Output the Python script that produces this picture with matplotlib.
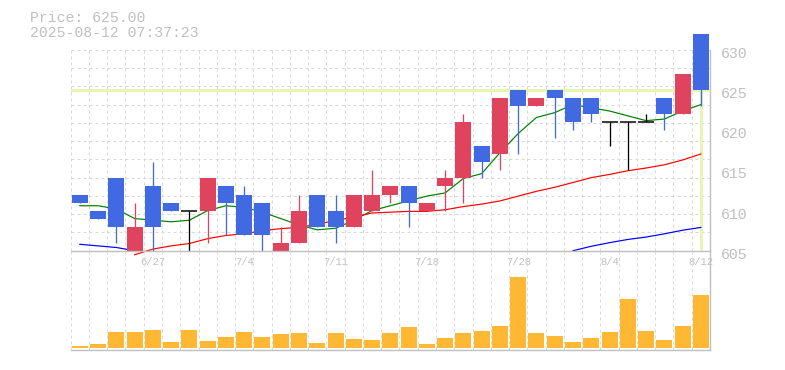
import matplotlib
matplotlib.use('Agg')
import matplotlib.pyplot as plt
import matplotlib.transforms as mtransforms
import numpy as np

# daily data, 6/23 - 8/12
dates = ['6/23', '6/24', '6/25', '6/26', '6/27', '6/30', '7/1', '7/2', '7/3', '7/4',
         '7/7', '7/8', '7/9', '7/10', '7/11', '7/14', '7/15', '7/16', '7/17', '7/18',
         '7/22', '7/23', '7/24', '7/25', '7/28', '7/29', '7/30', '7/31', '8/1', '8/4',
         '8/5', '8/6', '8/7', '8/8', '8/12']
opens = [612, 610, 614, 605, 613, 611, 610, 610, 613, 612,
         611, 605, 606, 612, 610, 608, 610, 612, 613, 610,
         613, 614, 618, 617, 625, 623, 625, 624, 624, 621,
         621, 621, 624, 622, 632]
highs = [612, 610, 614, 611, 616, 611, 610, 614, 613, 613,
         611, 608, 612, 612, 612, 612, 615, 613, 613, 611,
         615, 622, 618, 624, 625, 624, 625, 624, 624, 621,
         621, 622, 624, 627, 632]
lows = [611, 609, 606, 605, 605, 610, 605, 606, 607, 607,
        605, 605, 606, 608, 606, 608, 610, 611, 608, 610,
        610, 611, 614, 615, 617, 623, 619, 620, 621, 618,
        615, 621, 620, 622, 623]
closes = [611, 609, 608, 608, 608, 610, 610, 614, 611, 607,
          607, 606, 610, 608, 608, 612, 612, 613, 611, 611,
          614, 621, 616, 624, 623, 624, 624, 621, 622, 621,
          621, 621, 622, 627, 625]
nan = float('nan')
ma_short = [610.6, 610.6, 610.2, 609.0, 608.8, 608.6, 608.8, 610.0, 610.6, 610.4,
            609.8, 609.0, 608.2, 607.6, 607.8, 608.8, 610.0, 610.6, 611.2, 611.8,
            612.2, 614.0, 614.6, 617.2, 619.6, 621.6, 622.2, 623.2, 622.8, 622.4,
            621.8, 621.2, 621.4, 622.4, 623.2]
ma_mid = [nan, nan, nan, 604.5, 605.2, 605.6, 605.9, 606.5, 606.9, 607.1,
          607.5, 607.75, 607.9, 608.3, 608.75, 609.2, 609.7, 609.8, 609.9, 609.9,
          610.1, 610.5, 610.8, 611.2, 611.8, 612.4, 612.9, 613.5, 614.1, 614.5,
          614.96, 615.3, 615.7, 616.3, 617.05]
ma_long = [605.8, 605.6, 605.4, 605.0, nan, nan, nan, nan, nan, nan,
           nan, nan, nan, nan, nan, nan, nan, nan, nan, nan,
           nan, nan, nan, nan, nan, nan, nan, 605.0, 605.55, 606.0,
           606.4, 606.7, 607.1, 607.55, 607.9]
volumes = [200, 400, 1600, 1600, 1800, 600, 1800, 700, 1100, 1600,
           1100, 1400, 1500, 500, 1500, 900, 800, 1500, 2100, 400,
           1000, 1500, 1700, 2200, 7100, 1500, 1200, 600, 1000, 1600,
           4900, 1700, 800, 2200, 5300]
price_ticks = [605, 610, 615, 620, 625, 630]
timestamp = '2025-08-12 07:37:23'

W, H = 785, 370
gray = '#c0c0c0'
gridc = '#d9d9d9'
mono = 'Liberation Mono'
px = 0.72  # one pixel in points

fig = plt.figure(figsize=(W / 100, H / 100), dpi=100)


def box(l, t, r, b):
    return [l / W, 1 - b / H, (r - l) / W, (b - t) / H]


ax = fig.add_axes(box(70.7, 50, 710, 250.7))
axv = fig.add_axes(box(70.7, 250.7, 710, 350))
axv.patch.set_alpha(0)

n = len(dates)
x = np.arange(n)
o = np.array(opens, float)
h = np.array(highs, float)
l = np.array(lows, float)
c = np.array(closes, float)

ax.set_xlim(-0.5, n - 0.5)
ax.set_ylim(price_ticks[0], price_ticks[-1])
axv.set_xlim(-0.5, n - 0.5)
vmax = max(volumes)
axv.set_ylim(-vmax * 2 / 71, vmax * 97.3 / 71)

# dashed grid
for xv in np.arange(-0.5, n - 0.5):
    ax.axvline(xv, color=gridc, lw=px, ls=(0, (3, 3)), zorder=0)
    axv.axvline(xv, color=gridc, lw=px, ls=(0, (3, 3)), zorder=0)
for k in range(11):
    ax.axhline(price_ticks[-1] - k * (price_ticks[-1] - price_ticks[0]) / 11,
               color=gridc, lw=px, ls=(0, (3, 3)), zorder=0)

# current price marker
hl = '#e6f5b3'
ax.axhline(c[-1], color=hl, lw=3 * px, zorder=1)
ax.plot([x[-1], x[-1]], [price_ticks[0], c[-1]], color=hl, lw=3 * px, zorder=1,
        solid_capstyle='butt')

# moving averages
ax.plot(x, ma_short, color='#008000', lw=1.2 * px, zorder=2, clip_on=False)
ax.plot(x, ma_mid, color='#ff0000', lw=1.2 * px, zorder=2, clip_on=False)
ax.plot(x, ma_long, color='#0000ff', lw=1.2 * px, zorder=2, clip_on=False)

# candles
cols = np.where(c > o, '#e0435d', np.where(c < o, '#4169e1', '#000000'))
ax.vlines(x, l, h, colors=cols, lw=1.3 * px, zorder=3, clip_on=False)
bars = ax.bar(x, np.abs(c - o), bottom=np.minimum(o, c), width=0.875,
              color=cols, linewidth=0, zorder=4)
for b in bars:
    b.set_clip_on(False)
doji = c == o
ax.hlines(c[doji], x[doji] - 0.4375, x[doji] + 0.4375, colors='black',
          lw=1.5 * px, zorder=4, clip_on=False)

# volume
axv.bar(x, volumes, width=0.875, color='#ffb833', linewidth=0, zorder=2)

# axes styling
for a in (ax, axv):
    for s in ('left', 'top'):
        a.spines[s].set_visible(False)
    for s in ('right', 'bottom'):
        a.spines[s].set_color(gray)
        a.spines[s].set_linewidth(1.4 * px)
        a.spines[s].set_zorder(5)

ax.yaxis.tick_right()
ax.set_yticks(price_ticks)
ax.set_yticklabels([str(t) for t in price_ticks], family=mono, fontsize=10.7,
                   color=gray)
ax.tick_params(axis='y', length=0, pad=7.5)
shift = mtransforms.ScaledTranslation(0, -2.5 / 100, fig.dpi_scale_trans)
for lab in ax.get_yticklabels():
    lab.set_transform(lab.get_transform() + shift)

tick_idx = [i for i in range(n) if (n - 1 - i) % 5 == 0]
ax.set_xticks(tick_idx)
ax.set_xticklabels([dates[i] for i in tick_idx], family=mono, fontsize=7.6,
                   color=gray)
ax.tick_params(axis='x', length=0, pad=4.5)

axv.set_xticks([])
axv.set_yticks([])

fig.text(30 / W, 1 - 18 / H, f'Price: {closes[-1]:.2f}', family=mono,
         fontsize=10.7, color=gray, ha='left', va='center')
fig.text(30 / W, 1 - 33 / H, timestamp, family=mono, fontsize=10.7,
         color=gray, ha='left', va='center')

fig.savefig('out.png', dpi=100)
